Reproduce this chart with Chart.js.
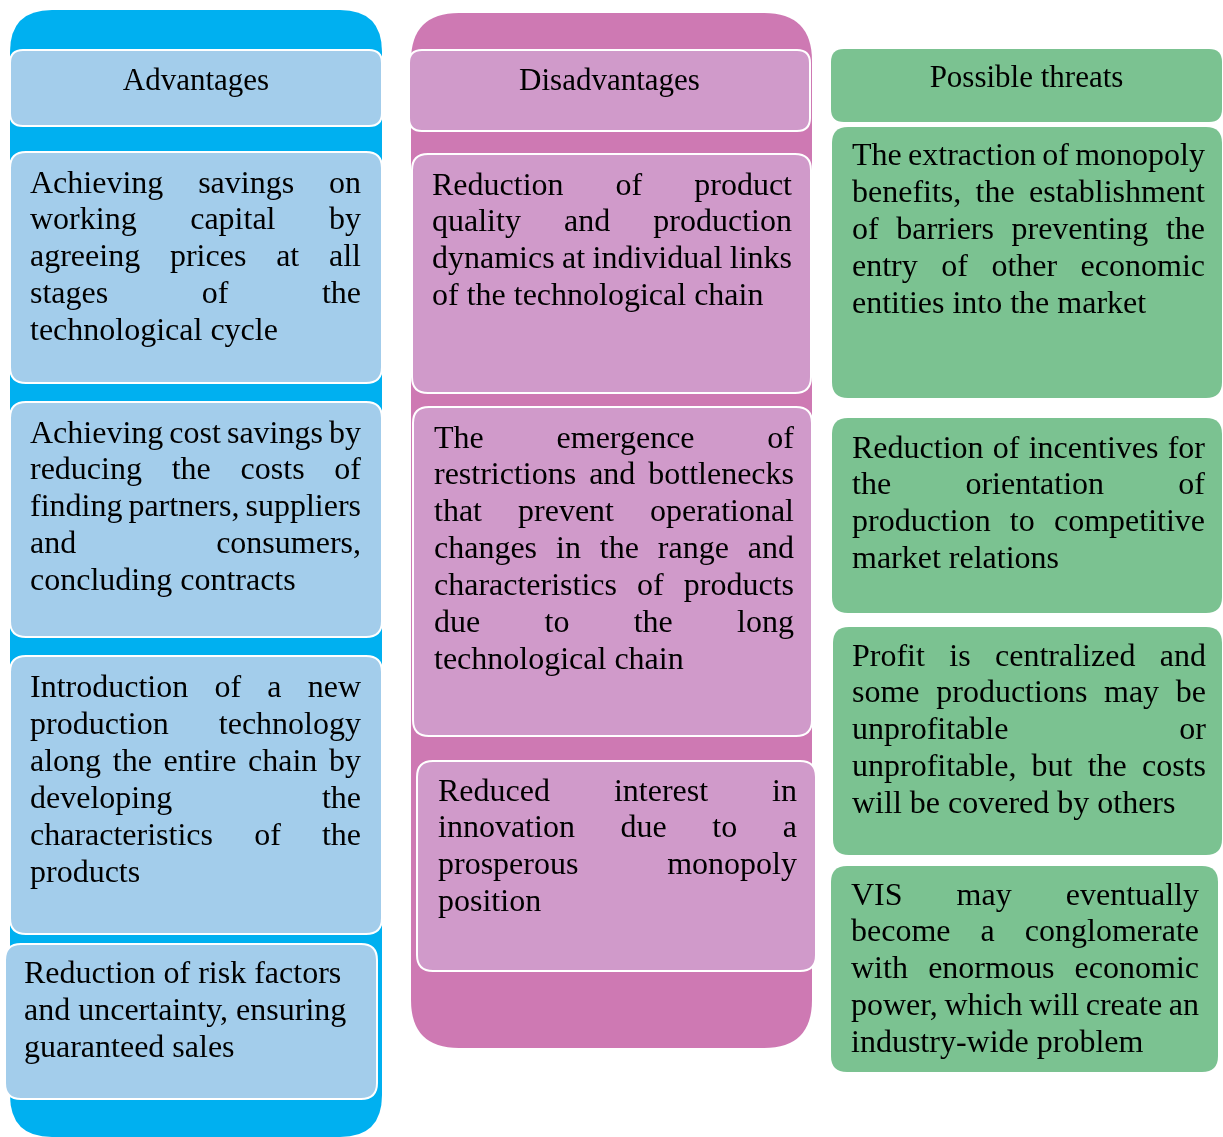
<!DOCTYPE html>
<html>
<head>
<meta charset="utf-8">
<script src="https://cdn.jsdelivr.net/npm/chart.js@4/dist/chart.umd.min.js"></script>
<style>
  html, body { margin: 0; padding: 0; background: #ffffff; }
  #wrap { width: 1223px; height: 1137px; position: relative; }
</style>
</head>
<body>
<div id="wrap"><canvas id="c"></canvas></div>
<script>
// ---------- DATA (content) ----------
const columns = ['Advantages', 'Disadvantages', 'Possible threats'];

const advantages = [
  ['Achieving savings on', 'working capital by', 'agreeing prices at all', 'stages of the', 'technological cycle'],
  ['Achieving cost savings by', 'reducing the costs of', 'finding partners, suppliers', 'and consumers,', 'concluding contracts'],
  ['Introduction of a new', 'production technology', 'along the entire chain by', 'developing the', 'characteristics of the', 'products'],
  ['Reduction of risk factors', 'and uncertainty, ensuring', 'guaranteed sales']
];

const disadvantages = [
  ['Reduction of product', 'quality and production', 'dynamics at individual links', 'of the technological chain'],
  ['The emergence of', 'restrictions and bottlenecks', 'that prevent operational', 'changes in the range and', 'characteristics of products', 'due to the long', 'technological chain'],
  ['Reduced interest in', 'innovation due to a', 'prosperous monopoly', 'position']
];

const threats = [
  ['The extraction of monopoly', 'benefits, the establishment', 'of barriers preventing the', 'entry of other economic', 'entities into the market'],
  ['Reduction of incentives for', 'the orientation of', 'production to competitive', 'market relations'],
  ['Profit is centralized and', 'some productions may be', 'unprofitable or', 'unprofitable, but the costs', 'will be covered by others'],
  ['VIS may eventually', 'become a conglomerate', 'with enormous economic', 'power, which will create an', 'industry-wide problem']
];

// ---------- LAYOUT (positions in scale units) ----------
const columnBackgrounds = [
  { x0: 10, x1: 382, y0: 10, y1: 1137, r: 42, fill: '#00B0F0' },
  { x0: 411, x1: 812, y0: 13, y1: 1048, r: 48, fill: '#CE79B3' },
  null
];
const headerBoxes = [
  { x0: 10, x1: 382, y0: 50, y1: 126, base: 90 },
  { x0: 409, x1: 810, y0: 50, y1: 131, base: 90 },
  { x0: 831, x1: 1222, y0: 49, y1: 122, base: 87 }
];
const advBoxes = [
  { x0: 10, x1: 382, y0: 152, y1: 383, tx0: 30, tx1: 361, base: 192.5 },
  { x0: 10, x1: 382, y0: 402, y1: 637, tx0: 30, tx1: 361, base: 442.5 },
  { x0: 10, x1: 382, y0: 656, y1: 934, tx0: 30, tx1: 361, base: 697 },
  { x0: 5, x1: 377, y0: 944, y1: 1099, tx0: 24, tx1: 345, base: 983, nojust: true }
];
const disBoxes = [
  { x0: 412, x1: 811, y0: 154, y1: 393, tx0: 432, tx1: 792, base: 194.5 },
  { x0: 413, x1: 812, y0: 407, y1: 736, tx0: 434, tx1: 794, base: 447.5 },
  { x0: 417, x1: 816, y0: 761, y1: 971, tx0: 438, tx1: 797, base: 800.5 }
];
const thrBoxes = [
  { x0: 832, x1: 1222, y0: 127, y1: 398, tx0: 852, tx1: 1205, base: 165 },
  { x0: 832, x1: 1222, y0: 418, y1: 613, tx0: 852, tx1: 1205, base: 457.5 },
  { x0: 833, x1: 1222, y0: 627, y1: 855, tx0: 852, tx1: 1206, base: 665.5 },
  { x0: 831, x1: 1218, y0: 866, y1: 1072, tx0: 851, tx1: 1199, base: 904.5 }
];
const boxFill = ['#A3CDEB', '#D09ACA', '#7BC291'];
const boxStroke = ['#FFFFFF', '#FFFFFF', null];
const lineStep = 36.9;
const bodyFont = '32px "Liberation Serif", "Times New Roman", serif';
const headFont = '31px "Liberation Serif", "Times New Roman", serif';

function roundRect(ctx, x, y, w, h, r) {
  r = Math.min(r, w / 2, h / 2);
  ctx.beginPath();
  ctx.moveTo(x + r, y);
  ctx.lineTo(x + w - r, y);
  ctx.quadraticCurveTo(x + w, y, x + w, y + r);
  ctx.lineTo(x + w, y + h - r);
  ctx.quadraticCurveTo(x + w, y + h, x + w - r, y + h);
  ctx.lineTo(x + r, y + h);
  ctx.quadraticCurveTo(x, y + h, x, y + h - r);
  ctx.lineTo(x, y + r);
  ctx.quadraticCurveTo(x, y, x + r, y);
  ctx.closePath();
}

const diagramPlugin = {
  id: 'diagram',
  afterDraw(chart) {
    const ctx = chart.ctx;
    const sx = chart.scales.x, sy = chart.scales.y;
    const px = v => sx.getPixelForValue(v);
    const py = v => sy.getPixelForValue(v);

    function box(b, fill, stroke, r) {
      const x0 = px(b.x0), x1 = px(b.x1), y0 = py(b.y0), y1 = py(b.y1);
      roundRect(ctx, x0, y0, x1 - x0, y1 - y0, r);
      ctx.fillStyle = fill;
      ctx.fill();
      if (stroke) {
        ctx.lineWidth = 2;
        ctx.strokeStyle = stroke;
        ctx.stroke();
      }
    }

    function para(lines, b) {
      ctx.font = bodyFont;
      ctx.fillStyle = '#000000';
      ctx.textBaseline = 'alphabetic';
      ctx.textAlign = 'left';
      const left = px(b.tx0), right = px(b.tx1);
      const W = right - left;
      lines.forEach((ln, i) => {
        const y = py(b.base + i * lineStep);
        const words = ln.split(' ');
        const last = i === lines.length - 1;
        if (b.nojust || last || words.length < 2) {
          ctx.fillText(ln, left, y);
          return;
        }
        const widths = words.map(w => ctx.measureText(w).width);
        const total = widths.reduce((a, c) => a + c, 0);
        const gap = Math.max((W - total) / (words.length - 1), 4);
        let x = left;
        words.forEach((w, k) => {
          ctx.fillText(w, x, y);
          x += widths[k] + gap;
        });
      });
    }

    ctx.save();
    columnBackgrounds.forEach(bg => { if (bg) box(bg, bg.fill, null, bg.r); });
    headerBoxes.forEach((h, i) => {
      box(h, boxFill[i], boxStroke[i], 13);
      ctx.font = headFont;
      ctx.fillStyle = '#000000';
      ctx.textAlign = 'center';
      ctx.textBaseline = 'alphabetic';
      ctx.fillText(columns[i], px((h.x0 + h.x1) / 2), py(h.base));
    });
    const groups = [[advantages, advBoxes], [disadvantages, disBoxes], [threats, thrBoxes]];
    groups.forEach(([texts, boxes], gi) => {
      texts.forEach((lines, k) => {
        box(boxes[k], boxFill[gi], boxStroke[gi], 16);
        para(lines, boxes[k]);
      });
    });
    ctx.restore();
  }
};

new Chart(document.getElementById('c'), {
  type: 'scatter',
  data: { datasets: [{ data: [], pointRadius: 0 }] },
  options: {
    responsive: true,
    maintainAspectRatio: false,
    animation: false,
    events: [],
    layout: { padding: 0 },
    plugins: { legend: { display: false }, tooltip: { enabled: false }, title: { display: false } },
    scales: {
      x: { type: 'linear', min: 0, max: 1223, display: false },
      y: { type: 'linear', min: 0, max: 1137, reverse: true, display: false }
    }
  },
  plugins: [diagramPlugin]
});
</script>
</body>
</html>
